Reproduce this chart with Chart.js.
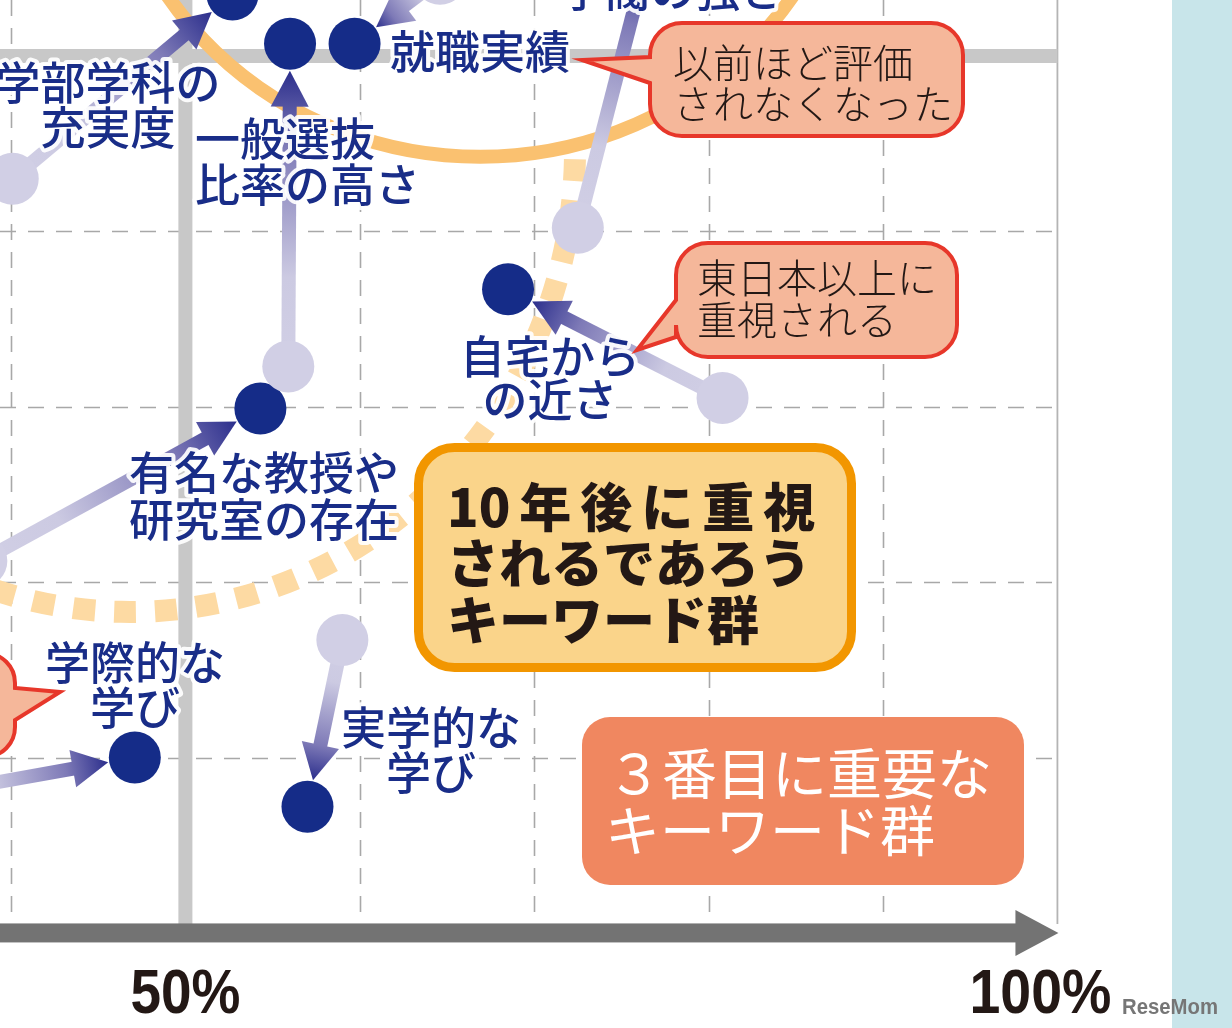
<!DOCTYPE html>
<html lang="ja">
<head>
<meta charset="utf-8">
<title>キーワード群の変化</title>
<script src="https://cdn.jsdelivr.net/npm/chart.js@4.4.1/dist/chart.umd.min.js"></script>
<style>
  html, body { margin: 0; padding: 0; background: #fff; }
  #wrap { position: relative; width: 1232px; height: 1028px; overflow: hidden; }
  canvas { display: block; }
</style>
</head>
<body>
<div id="wrap"><canvas id="mycanvas" width="1232" height="1028"></canvas></div>
<script>
// keywords, previous survey (light dots) and now (dark dots), in %
var keywords = ['学部学科の充実度', '一般選抜比率の高さ', '就職実績', '学閥の強さ',
                '自宅からの近さ', '有名な教授や研究室の存在', '学際的な学び', '実学的な学び'];
var beforeX = [40.1, 55.9, 64.6, 72.5, 80.8, 38.3, 35.9, 59.0];
var beforeY = [43.0, 32.3, 54.4, 40.2, 30.5, 21.2, 8.0, 16.7];
var nowX = [52.7, 56.0, 59.7, 76.9, 68.5, 54.3, 47.1, 57.0];
var nowY = [53.5, 50.7, 50.7, 57.2, 36.7, 29.9, 10.0, 7.2];
var xGrid = [40, 50, 60, 70, 80, 90, 100];
var yGrid = [10, 20, 30, 40, 50];
var tickValues = [50, 100];
var tickLabels = ['50%', '100%'];

var XMIN = 39.37, XMAX = 110.01, YMIN = -5.42, YMAX = 53.19;
var R = 26;
var JP = "'Noto Sans CJK JP', 'Noto Sans CJK SC', sans-serif";
var LAT = "'Liberation Sans', Arial, sans-serif";

function toPts(xs, ys) {
    var out = [];
    for (var i = 0; i < xs.length; i++) out.push({x: xs[i], y: ys[i]});
    return out;
}

// keyword labels (pixel layout)
var labels = [
    {lines: ['学部学科の', '充実度'], x: 108, y: [83, 128], align: 'center'},
    {lines: ['一般選抜', '比率の高さ'], x: 195, y: [139, 185], align: 'left'},
    {lines: ['就職実績'], x: 390, y: [52], align: 'left'},
    {lines: ['学閥の強さ'], x: 560, y: [-10], align: 'left'},
    {lines: ['自宅から', 'の近さ'], x: 550, y: [357, 400], align: 'center'},
    {lines: ['有名な教授や', '研究室の存在'], x: 264, y: [473, 520], align: 'center'},
    {lines: ['学際的な', '学び'], x: 135, y: [663, 708], align: 'center'},
    {lines: ['実学的な', '学び'], x: 431, y: [728, 773], align: 'center'}
];

function roundRect(ctx, x, y, w, h, r) {
    ctx.beginPath();
    ctx.moveTo(x + r, y);
    ctx.lineTo(x + w - r, y);
    ctx.arcTo(x + w, y, x + w, y + r, r);
    ctx.lineTo(x + w, y + h - r);
    ctx.arcTo(x + w, y + h, x + w - r, y + h, r);
    ctx.lineTo(x + r, y + h);
    ctx.arcTo(x, y + h, x, y + h - r, r);
    ctx.lineTo(x, y + r);
    ctx.arcTo(x, y, x + r, y, r);
    ctx.closePath();
}

function bubble(ctx, b) {
    var x = b.x, y = b.y, w = b.w, h = b.h, r = b.r;
    ctx.beginPath();
    ctx.moveTo(x + r, y);
    ctx.lineTo(x + w - r, y);
    ctx.arcTo(x + w, y, x + w, y + r, r);
    if (b.side === 'right') {
        ctx.lineTo(x + w, b.t1);
        ctx.lineTo(b.tipX, b.tipY);
        ctx.lineTo(x + w, b.t2);
    }
    ctx.lineTo(x + w, y + h - r);
    ctx.arcTo(x + w, y + h, x + w - r, y + h, r);
    ctx.lineTo(x + r, y + h);
    ctx.arcTo(x, y + h, x, y + h - r, r);
    if (b.side === 'left') {
        ctx.lineTo(x, b.t2);
        ctx.lineTo(b.tipX, b.tipY);
        ctx.lineTo(x, b.t1);
    }
    ctx.lineTo(x, y + r);
    ctx.arcTo(x, y, x + r, y, r);
    ctx.closePath();
    ctx.fillStyle = '#F5B79A';
    ctx.fill();
    ctx.lineWidth = 4;
    ctx.lineJoin = 'miter';
    ctx.strokeStyle = '#E7372A';
    ctx.stroke();
    ctx.fillStyle = '#231815';
    ctx.font = '300 40px ' + JP;
    ctx.textAlign = 'left';
    ctx.textBaseline = 'middle';
    for (var i = 0; i < b.lines.length; i++) ctx.fillText(b.lines[i], b.tx, b.ty[i]);
}

// condensed text: squeeze a normal font to a target width
function narrowText(ctx, text, cx, y, width) {
    var w = ctx.measureText(text).width;
    ctx.save();
    ctx.translate(cx, y);
    ctx.scale(width / w, 1);
    ctx.textAlign = 'center';
    ctx.fillText(text, 0, 0);
    ctx.restore();
}

function drawArrow(ctx, x0, y0, x1, y1) {
    var dx = x1 - x0, dy = y1 - y0;
    var len = Math.sqrt(dx * dx + dy * dy);
    var ux = dx / len, uy = dy / len, nx = -uy, ny = ux;
    var tipX = x1 - ux * (R + 1), tipY = y1 - uy * (R + 1);
    var headLen = 36, headW = 19, sw = 7;
    var bx = tipX - ux * headLen, by = tipY - uy * headLen;
    var g = ctx.createLinearGradient(x0, y0, tipX, tipY);
    g.addColorStop(0, '#D1CFE5');
    g.addColorStop(0.3, '#CCCAE2');
    g.addColorStop(0.75, '#7E7AB7');
    g.addColorStop(1, '#2B2E8C');
    ctx.fillStyle = g;
    ctx.beginPath();
    ctx.moveTo(x0 + nx * sw, y0 + ny * sw);
    ctx.lineTo(bx + ux * 2 + nx * sw, by + uy * 2 + ny * sw);
    ctx.lineTo(bx + ux * 2 - nx * sw, by + uy * 2 - ny * sw);
    ctx.lineTo(x0 - nx * sw, y0 - ny * sw);
    ctx.closePath();
    ctx.fill();
    ctx.beginPath();
    ctx.moveTo(tipX, tipY);
    ctx.lineTo(bx + nx * headW, by + ny * headW);
    ctx.lineTo(bx - nx * headW, by - ny * headW);
    ctx.closePath();
    ctx.fill();
}

var backPlugin = {
    id: 'back',
    beforeDatasetsDraw: function (chart) {
        var ctx = chart.ctx, xs = chart.scales.x, ys = chart.scales.y;
        var axisY = ys.getPixelForValue(0);
        var right = xs.getPixelForValue(100);
        ctx.save();
        // panel on the right
        ctx.fillStyle = '#C8E5EA';
        ctx.fillRect(1172, 0, 60, chart.height);

        // dashed grid
        ctx.strokeStyle = '#A8A8A8';
        ctx.lineWidth = 1.6;
        ctx.setLineDash([16, 12]);
        xGrid.forEach(function (v) {
            if (v === 50 || v === 100) return;
            var p = Math.round(xs.getPixelForValue(v)) + 0.5;
            ctx.beginPath(); ctx.moveTo(p, 0); ctx.lineTo(p, axisY - 9); ctx.stroke();
        });
        yGrid.forEach(function (v) {
            if (v === 50) return;
            var p = Math.round(ys.getPixelForValue(v)) + 0.5;
            ctx.beginPath(); ctx.moveTo(0, p); ctx.lineTo(right, p); ctx.stroke();
        });
        ctx.setLineDash([]);
        // 100% thin line
        ctx.strokeStyle = '#B4B4B4';
        ctx.lineWidth = 1.8;
        ctx.beginPath(); ctx.moveTo(right, 0); ctx.lineTo(right, axisY - 9); ctx.stroke();
        // 50% thick lines
        ctx.strokeStyle = '#C8C8C8';
        ctx.lineWidth = 14;
        var p50x = xs.getPixelForValue(50), p50y = ys.getPixelForValue(50);
        ctx.beginPath(); ctx.moveTo(p50x, 0); ctx.lineTo(p50x, axisY - 9); ctx.stroke();
        ctx.beginPath(); ctx.moveTo(0, p50y); ctx.lineTo(right, p50y); ctx.stroke();

        // dotted ellipse (10 years later group)
        var cx = xs.getPixelForValue(46.82), cy = ys.getPixelForValue(44.64);
        var rx = xs.getPixelForValue(46.82 + 25.52) - cx;
        var ry = ys.getPixelForValue(44.64 - 26.34) - cy;
        ctx.strokeStyle = '#FDDAA3';
        ctx.lineWidth = 22;
        ctx.setLineDash([22, 19]);
        ctx.beginPath();
        ctx.ellipse(cx, cy, rx, ry, 0, 0.02, Math.PI);
        ctx.stroke();
        ctx.setLineDash([]);

        // solid ellipse (top group)
        cx = xs.getPixelForValue(66.9); cy = ys.getPixelForValue(64.6);
        rx = xs.getPixelForValue(66.9 + 21.44) - cx;
        ry = ys.getPixelForValue(64.6 - 20.35) - cy;
        ctx.strokeStyle = '#FAC170';
        ctx.lineWidth = 14;
        ctx.beginPath();
        ctx.ellipse(cx, cy, rx, ry, 0, 0, Math.PI * 2);
        ctx.stroke();

        // arrows from previous to now
        var m0 = chart.getDatasetMeta(0).data, m1 = chart.getDatasetMeta(1).data;
        for (var i = 0; i < m0.length; i++) {
            drawArrow(ctx, m0[i].x, m0[i].y, m1[i].x, m1[i].y);
        }
        ctx.restore();
    }
};

var frontPlugin = {
    id: 'front',
    afterDatasetsDraw: function (chart) {
        var ctx = chart.ctx, xs = chart.scales.x, ys = chart.scales.y;
        ctx.save();
        // keyword labels with white halo
        ctx.font = '500 45px ' + JP;
        ctx.textBaseline = 'middle';
        ctx.lineJoin = 'round';
        labels.forEach(function (l) {
            ctx.textAlign = l.align;
            for (var i = 0; i < l.lines.length; i++) {
                ctx.strokeStyle = 'rgba(255,255,255,0.92)';
                ctx.lineWidth = 8;
                ctx.strokeText(l.lines[i], l.x, l.y[i]);
            }
            ctx.fillStyle = '#192D88';
            for (i = 0; i < l.lines.length; i++) ctx.fillText(l.lines[i], l.x, l.y[i]);
        });

        // speech bubbles
        bubble(ctx, {x: 650, y: 23, w: 313, h: 113, r: 32, side: 'left',
            t1: 57, t2: 83, tipX: 582, tipY: 60,
            lines: ['以前ほど評価', 'されなくなった'], tx: 673, ty: [63, 104]});
        bubble(ctx, {x: 676, y: 243, w: 281, h: 114, r: 32, side: 'left',
            t1: 300, t2: 337, tipX: 637, tipY: 350,
            lines: ['東日本以上に', '重視される'], tx: 697, ty: [278, 320]});
        bubble(ctx, {x: -300, y: 653, w: 315, h: 104, r: 30, side: 'right',
            t1: 688, t2: 720, tipX: 60, tipY: 692, lines: [], tx: 0, ty: []});

        // 10 years box
        roundRect(ctx, 418.5, 447.5, 433, 220, 36);
        ctx.fillStyle = '#FAD48A';
        ctx.fill();
        ctx.lineWidth = 9;
        ctx.strokeStyle = '#F29600';
        ctx.stroke();
        ctx.fillStyle = '#231815';
        ctx.textAlign = 'left';
        ctx.font = '900 52px ' + JP;
        var parts = ['10', '年', '後', 'に', '重', '視'], px = 447;
        for (var k = 0; k < parts.length; k++) {
            ctx.fillText(parts[k], px, 507);
            px += ctx.measureText(parts[k]).width + 9;
        }
        ctx.fillText('されるであろう', 447, 563);
        ctx.fillText('キーワード群', 447, 620);

        // third group box
        roundRect(ctx, 582, 717, 442, 168, 28);
        ctx.fillStyle = '#F08760';
        ctx.fill();
        ctx.fillStyle = '#FFFFFF';
        ctx.font = '400 55px ' + JP;
        ctx.fillText('３番目に重要な', 607, 773);
        ctx.fillText('キーワード群', 605, 830);

        // x axis arrow
        var ay = ys.getPixelForValue(0);
        var tip = xs.getPixelForValue(100);
        ctx.fillStyle = '#737373';
        ctx.fillRect(0, ay - 9.5, tip - 40, 19);
        ctx.beginPath();
        ctx.moveTo(tip - 42, ay - 23);
        ctx.lineTo(tip + 1, ay);
        ctx.lineTo(tip - 42, ay + 23);
        ctx.closePath();
        ctx.fill();

        // tick labels
        ctx.fillStyle = '#231815';
        ctx.font = 'bold 63px ' + LAT;
        ctx.textBaseline = 'alphabetic';
        narrowText(ctx, tickLabels[0], xs.getPixelForValue(tickValues[0]), 1013, 110);
        narrowText(ctx, tickLabels[1], xs.getPixelForValue(tickValues[1]) - 17, 1013, 142);

        // watermark
        ctx.fillStyle = '#767676';
        ctx.font = 'bold 22px ' + LAT;
        narrowText(ctx, 'ReseMom', 1170, 1014, 96);
        ctx.restore();
    }
};

var ctx = document.getElementById('mycanvas');
var chart = new Chart(ctx, {
    type: 'scatter',
    data: {
        datasets: [
            {
                label: '以前',
                data: toPts(beforeX, beforeY),
                backgroundColor: '#D1CFE5',
                borderWidth: 0,
                pointRadius: R,
                pointHoverRadius: R,
                clip: false
            },
            {
                label: '現在',
                data: toPts(nowX, nowY),
                backgroundColor: '#152C88',
                borderWidth: 0,
                pointRadius: R,
                pointHoverRadius: R,
                clip: false
            }
        ]
    },
    options: {
        responsive: false,
        animation: false,
        events: [],
        layout: { autoPadding: false, padding: 0 },
        scales: {
            x: { type: 'linear', min: XMIN, max: XMAX, display: false },
            y: { type: 'linear', min: YMIN, max: YMAX, display: false }
        },
        plugins: {
            legend: { display: false },
            tooltip: { enabled: false }
        }
    },
    plugins: [backPlugin, frontPlugin]
});
</script>
</body>
</html>
